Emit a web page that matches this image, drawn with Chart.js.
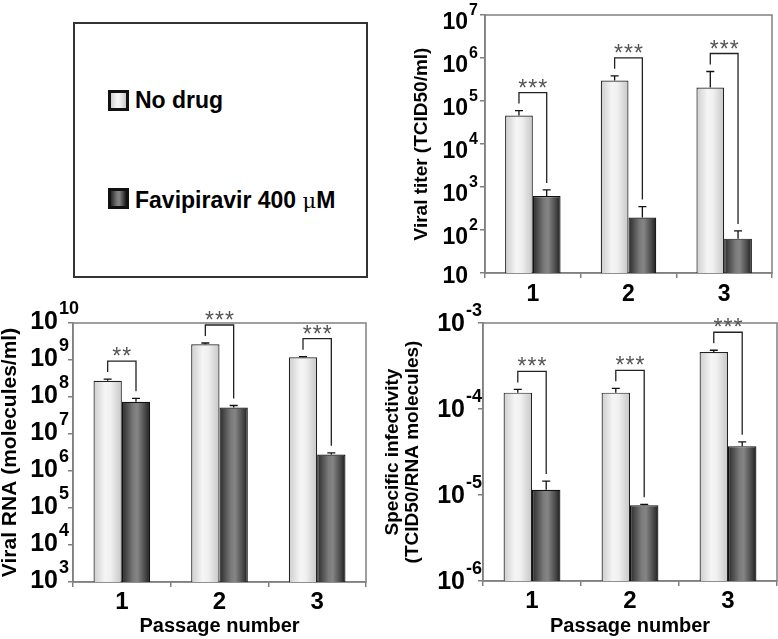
<!DOCTYPE html>
<html>
<head>
<meta charset="utf-8">
<script src="https://cdn.jsdelivr.net/npm/chart.js@4.4.0/dist/chart.umd.min.js"></script>
<style>
  body { margin: 0; background: #fff; width: 778px; height: 639px; position: relative; overflow: hidden;
         font-family: "Liberation Sans", Arial, sans-serif; }
  canvas { position: absolute; }
  #legend { position: absolute; left: 73px; top: 22px; width: 291px; height: 252px; border: 2px solid #333; }
  .sw { position: absolute; left: 33px; width: 15px; height: 15px; border: 3px solid #111; }
  .txt { position: absolute; left: 60px; font-weight: bold; font-size: 23px; line-height: 23px; white-space: nowrap; color: #000; }
  .mu { font-weight: normal; font-family: "DejaVu Serif", serif; font-size: 21px; }
</style>
</head>
<body>
<div id="legend">
  <div class="sw" style="top:66px;background:linear-gradient(to right,#cfcfcf,#f5f5f5 40%,#f0f0f0 60%,#c8c8c8)"></div>
  <div class="txt" id="leg0" style="top:65px"></div>
  <div class="sw" style="top:164px;background:linear-gradient(to right,#2a2a2a,#7a7a7a 40%,#858585 55%,#1a1a1a)"></div>
  <div class="txt" id="leg1" style="top:165px"></div>
</div>
<canvas id="titer" width="393" height="320" style="left:385px;top:0px"></canvas>
<canvas id="rna" width="378" height="339" style="left:0px;top:300px"></canvas>
<canvas id="infect" width="400" height="339" style="left:378px;top:300px"></canvas>
<script>
const FONT = '"Liberation Sans", Arial, sans-serif';

// categories and series
const passages = ['1', '2', '3'];
const seriesNames = ['No drug', 'Favipiravir 400 \u03bcM'];

// viral titer (TCID50/ml)
const titerNoDrug = [4.6e4, 3.0e5, 2.05e5];
const titerNoDrugErr = [1.4e4, 8.5e4, 2.8e5];
const titerFavi = [620, 195, 63];
const titerFaviErr = [235, 155, 32];
const titerTicks = ['10', '10^2', '10^3', '10^4', '10^5', '10^6', '10^7'];
const titerStars = ['***', '***', '***'];

// viral RNA (molecules/ml)
const rnaNoDrug = [2.75e8, 2.65e9, 1.18e9];
const rnaNoDrugErr = [3e7, 2.3e8, 5e7];
const rnaFavi = [7.4e7, 5.2e7, 2.8e6];
const rnaFaviErr = [1.8e7, 7e6, 3e5];
const rnaTicks = ['10^3', '10^4', '10^5', '10^6', '10^7', '10^8', '10^9', '10^10'];
const rnaStars = ['**', '***', '***'];

// specific infectivity (TCID50/RNA molecules)
const infNoDrug = [1.55e-4, 1.55e-4, 4.6e-4];
const infNoDrugErr = [1.4e-5, 1.9e-5, 2.2e-5];
const infFavi = [1.15e-5, 7.6e-6, 3.7e-5];
const infFaviErr = [3e-6, 2e-7, 4.5e-6];
const infTicks = ['10^-6', '10^-5', '10^-4', '10^-3'];
const infStars = ['***', '***', '***'];

// legend text
document.getElementById('leg0').textContent = seriesNames[0];
const parts = seriesNames[1].split('\u03bc');
document.getElementById('leg1').innerHTML = parts[0] + '<span class="mu">\u03bc</span>' + parts[1];

function tickValue(lab) {
  const [m, e] = lab.split('^');
  return e === undefined ? Number(m) : Number('1e' + e);
}

// horizontal shaded fill for each bar, placed with the category scale
function barFill(light) {
  return (c) => {
    const fallback = light ? '#eee' : '#666';
    const x = c.chart.scales.x;
    if (!x || c.dataIndex === undefined) return fallback;
    const center = x.getPixelForValue(c.dataIndex);
    const w = x.width / passages.length * 0.58 / 2;
    if (!isFinite(center) || !isFinite(w) || w <= 0) return fallback;
    const x0 = light ? center - w : center;
    const g = c.chart.ctx.createLinearGradient(x0, 0, x0 + w, 0);
    if (light) {
      g.addColorStop(0, '#cdcdcd'); g.addColorStop(0.4, '#f5f5f5');
      g.addColorStop(0.6, '#f0f0f0'); g.addColorStop(1, '#c6c6c6');
    } else {
      g.addColorStop(0, '#2a2a2a'); g.addColorStop(0.4, '#7a7a7a');
      g.addColorStop(0.55, '#858585'); g.addColorStop(0.85, '#444'); g.addColorStop(1, '#1a1a1a');
    }
    return g;
  };
}

const framePlugin = {
  id: 'frame',
  beforeDatasetsDraw(chart) {
    const {ctx, chartArea: a} = chart;
    ctx.save();
    ctx.strokeStyle = '#808080';
    ctx.lineWidth = 1.5;
    ctx.strokeRect(a.left, a.top, a.right - a.left, a.bottom - a.top);
    ctx.restore();
  }
};

const errorPlugin = {
  id: 'errorBars',
  afterDatasetsDraw(chart, args, opts) {
    const {ctx} = chart;
    const y = chart.scales.y;
    const tops = [];
    ctx.save();
    ctx.strokeStyle = '#111';
    ctx.lineWidth = 1.3;
    chart.data.datasets.forEach((ds, d) => {
      tops[d] = [];
      chart.getDatasetMeta(d).data.forEach((bar, i) => {
        const top = y.getPixelForValue(ds.data[i] + ds.errors[i]);
        tops[d][i] = {x: bar.x, y: top};
        ctx.beginPath();
        ctx.moveTo(bar.x, bar.y);
        ctx.lineTo(bar.x, top);
        ctx.moveTo(bar.x - 4, top);
        ctx.lineTo(bar.x + 4, top);
        ctx.stroke();
      });
    });
    // significance brackets
    ctx.strokeStyle = '#222';
    ctx.fillStyle = '#555';
    ctx.font = '23px ' + FONT;
    ctx.textAlign = 'center';
    ctx.textBaseline = 'alphabetic';
    opts.stars.forEach((s, i) => {
      const a = tops[0][i], b = tops[1][i];
      const level = Math.min(a.y - 18, b.y - 14);
      ctx.beginPath();
      ctx.moveTo(a.x, a.y - 7);
      ctx.lineTo(a.x, level);
      ctx.lineTo(b.x, level);
      ctx.lineTo(b.x, b.y - 7);
      ctx.stroke();
      const cx = (a.x + b.x) / 2;
      for (let k = 0; k < s.length; k++) {
        ctx.fillText('*', cx + (k - (s.length - 1) / 2) * 10, level + 3);
      }
    });
    ctx.restore();
  }
};

// 10 with superscript exponent, placed with the log scale
const tickLabelPlugin = {
  id: 'powLabels',
  afterDraw(chart, args, o) {
    const {ctx} = chart;
    const y = chart.scales.y;
    const right = chart.chartArea.left - o.gap;
    ctx.save();
    ctx.fillStyle = '#000';
    ctx.textBaseline = 'alphabetic';
    o.labels.forEach(lab => {
      const [m, e] = lab.split('^');
      const py = y.getPixelForValue(tickValue(lab));
      ctx.font = 'bold ' + o.mSize + 'px ' + FONT;
      ctx.textAlign = 'right';
      ctx.fillText(m, right, py + (e ? o.mBase : o.plainBase));
      if (e) {
        ctx.font = 'bold ' + o.eSize + 'px ' + FONT;
        ctx.textAlign = 'left';
        ctx.fillText(e, right + 1, py + o.eBase);
      }
    });
    ctx.restore();
  }
};

function makeChart(id, s) {
  const ticks = s.ticks.map(tickValue);
  return new Chart(document.getElementById(id), {
    type: 'bar',
    data: {
      labels: passages,
      datasets: [
        {label: seriesNames[0], data: s.a, errors: s.aErr, backgroundColor: barFill(true),
         borderColor: '#222', borderWidth: 1.2},
        {label: seriesNames[1], data: s.b, errors: s.bErr, backgroundColor: barFill(false),
         borderColor: '#111', borderWidth: 1.2}
      ]
    },
    options: {
      responsive: false,
      animation: false,
      events: [],
      layout: {padding: {left: 0, bottom: 0, top: s.padTop, right: s.padRight}},
      datasets: {bar: {categoryPercentage: 0.58, barPercentage: 1}},
      plugins: {
        legend: {display: false},
        tooltip: {enabled: false},
        errorBars: {stars: s.stars},
        powLabels: s.lab
      },
      scales: {
        x: {
          offset: true,
          grid: {offset: true, drawOnChartArea: false, tickLength: 5, color: '#808080', lineWidth: 1.5},
          border: {color: '#808080', width: 1.5},
          ticks: {color: '#000', padding: s.xPad, font: {family: FONT, size: s.xSize, weight: 'bold', lineHeight: 1}},
          title: {display: !!s.xTitle, text: s.xTitle, color: '#000', padding: {top: 0, bottom: 3},
                  font: {family: FONT, size: 20, weight: 'bold', lineHeight: 1}},
          afterFit(sc) { sc.height = s.xH; }
        },
        y: {
          type: 'logarithmic',
          min: ticks[0],
          max: ticks[ticks.length - 1],
          grid: {drawOnChartArea: false, tickLength: 5, color: '#808080', lineWidth: 1.5},
          border: {color: '#808080', width: 1.5},
          ticks: {display: false},
          afterBuildTicks(sc) { sc.ticks = ticks.map(v => ({value: v})); },
          title: {display: true, text: s.yTitle, color: '#000', padding: {top: s.yTitlePad, bottom: 0},
                  font: {family: FONT, size: s.yTitleSize, weight: 'bold', lineHeight: s.yTitleLH}},
          afterFit(sc) { sc.width = s.yW; }
        }
      }
    },
    plugins: [framePlugin, errorPlugin, tickLabelPlugin]
  });
}

makeChart('titer', {
  a: titerNoDrug, aErr: titerNoDrugErr, b: titerFavi, bErr: titerFaviErr,
  ticks: titerTicks, stars: titerStars,
  padTop: 15, padRight: 6, yW: 100, xH: 47, xPad: 5, xSize: 23,
  yTitle: 'Viral titer (TCID50/ml)', yTitleSize: 19, yTitleLH: 1, yTitlePad: 27,
  lab: {labels: titerTicks, gap: 17, mSize: 23, eSize: 16, mBase: 14, eBase: 0, plainBase: 10}
});

makeChart('rna', {
  a: rnaNoDrug, aErr: rnaNoDrugErr, b: rnaFavi, bErr: rnaFaviErr,
  ticks: rnaTicks, stars: rnaStars,
  padTop: 23, padRight: 12, yW: 73, xH: 57, xPad: 3, xSize: 24,
  xTitle: 'Passage number',
  yTitle: 'Viral RNA (molecules/ml)', yTitleSize: 21, yTitleLH: 1, yTitlePad: 0,
  lab: {labels: rnaTicks, gap: 15, mSize: 25, eSize: 18, mBase: 6, eBase: -9, plainBase: 10}
});

makeChart('infect', {
  a: infNoDrug, aErr: infNoDrugErr, b: infFavi, bErr: infFaviErr,
  ticks: infTicks, stars: infStars,
  padTop: 23, padRight: 1, yW: 105, xH: 58, xPad: 3, xSize: 24,
  xTitle: 'Passage number',
  yTitle: ['Specific infectivity', '(TCID50/RNA molecules)'], yTitleSize: 19, yTitleLH: 1.05, yTitlePad: 5,
  lab: {labels: infTicks, gap: 18, mSize: 25, eSize: 18, mBase: 8, eBase: -7, plainBase: 10}
});
</script>
</body>
</html>
